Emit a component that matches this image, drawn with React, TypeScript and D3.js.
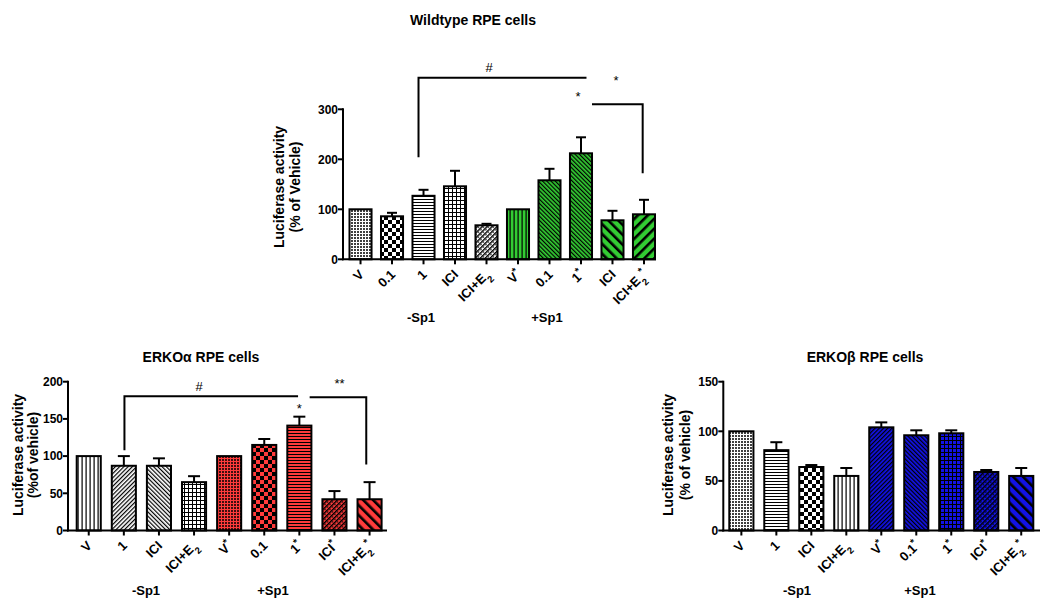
import React from "react";
import * as d3 from "d3";

// ---------- DATA ----------
const wtCategories = ["V", "0.1", "1", "ICI", "ICI+E2", "V*", "0.1", "1*", "ICI", "ICI+E2*"];
const wtMeans = [100, 86, 127, 146, 68, 100, 158, 212, 78, 90];
const wtUpper = [100, 93, 139, 177, 71, 100, 181, 244, 97, 119];
const wtTicks = [0, 100, 200, 300];

const aCategories = ["V", "1", "ICI", "ICI+E2", "V*", "0.1", "1*", "ICI*", "ICI+E2*"];
const aMeans = [100, 87, 87, 65, 100, 115, 141, 42, 42];
const aUpper = [100, 100, 97, 73, 100, 123, 153, 53, 65];
const aTicks = [0, 50, 100, 150, 200];

const bCategories = ["V", "1", "ICI", "ICI+E2", "V*", "0.1*", "1*", "ICI*", "ICI+E2*"];
const bMeans = [100, 81, 64, 55, 104, 96, 98, 59, 55];
const bUpper = [100, 89, 66, 63, 109, 101, 101, 61, 63];
const bTicks = [0, 50, 100, 150];

const groupLabels = ["-Sp1", "+Sp1"];

// ---------- STYLES ----------
const GREEN = "#33cc33";
const RED = "#ff3b3b";
const BLUE = "#1212e6";
const WHITE = "#ffffff";
const FONT = "'Liberation Sans', Arial, Helvetica, sans-serif";

type Fill = { kind: string; color: string };
const wtFills: Fill[] = [
  { kind: "dots", color: WHITE },
  { kind: "checker", color: WHITE },
  { kind: "hlines", color: WHITE },
  { kind: "grid", color: WHITE },
  { kind: "diagDots", color: WHITE },
  { kind: "vlines", color: GREEN },
  { kind: "diagFineL", color: GREEN },
  { kind: "diagFineL", color: GREEN },
  { kind: "diagWideL", color: GREEN },
  { kind: "diagWideR", color: GREEN },
];
const aFills: Fill[] = [
  { kind: "vlines", color: WHITE },
  { kind: "diagFineR", color: WHITE },
  { kind: "diagFineL", color: WHITE },
  { kind: "grid", color: WHITE },
  { kind: "dots", color: RED },
  { kind: "checker", color: RED },
  { kind: "hlines", color: RED },
  { kind: "diagDots", color: RED },
  { kind: "diagWideL", color: RED },
];
const bFills: Fill[] = [
  { kind: "dots", color: WHITE },
  { kind: "hlines", color: WHITE },
  { kind: "checker", color: WHITE },
  { kind: "vlines", color: WHITE },
  { kind: "diagFineR", color: BLUE },
  { kind: "diagFineL", color: BLUE },
  { kind: "grid", color: BLUE },
  { kind: "diagDots", color: BLUE },
  { kind: "diagWideL", color: BLUE },
];

type Bracket = { i0: number; dx0: number; i1: number; dx1: number; level: number; drop0?: number; drop1?: number };
type Note = { text: string; i: number; dx: number; v: number };

type PanelCfg = {
  title: string; titleX: number; titleY: number;
  yLabel: string[]; yLabelX: number[]; yLabelY: number;
  axisX: number; axisEnd: number; y0: number; yTopPx: number; yMax: number; ticks: number[];
  barStart: number; barEnd: number; padInner: number; cap: number;
  categories: string[]; means: number[]; upper: number[]; fills: Fill[];
  groupX: number[]; groupY: number;
  brackets: Bracket[]; notes: Note[];
};

const panels: PanelCfg[] = [
  {
    title: "Wildtype RPE cells", titleX: 473, titleY: 25,
    yLabel: ["Luciferase activity", "(% of Vehicle)"], yLabelX: [284, 300], yLabelY: 187,
    axisX: 343, axisEnd: 656, y0: 259.3, yTopPx: 109.3, yMax: 300, ticks: wtTicks,
    barStart: 349.5, barEnd: 655, padInner: 0.3, cap: 10,
    categories: wtCategories, means: wtMeans, upper: wtUpper, fills: wtFills,
    groupX: [421, 547], groupY: 321.5,
    brackets: [
      { i0: 2, dx0: -5, i1: 7, dx1: 5.5, level: 363, drop0: 204 },
      { i0: 7, dx0: 11, i1: 9, dx1: -1.3, level: 310, drop1: 172 },
    ],
    notes: [
      { text: "#", i: 4, dx: 2.5, v: 374 },
      { text: "*", i: 7, dx: -3, v: 316 },
      { text: "*", i: 8, dx: 3.5, v: 348 },
    ],
  },
  {
    title: "ERKO\u03b1 RPE cells", titleX: 201, titleY: 362,
    yLabel: ["Luciferase activity", "(%of vehicle)"], yLabelX: [23, 38], yLabelY: 455,
    axisX: 68, axisEnd: 387, y0: 530.5, yTopPx: 381.7, yMax: 200, ticks: aTicks,
    barStart: 76.7, barEnd: 381.6, padInner: 0.314, cap: 12,
    categories: aCategories, means: aMeans, upper: aUpper, fills: aFills,
    groupX: [146, 273], groupY: 595,
    brackets: [
      { i0: 1, dx0: 0.6, i1: 6, dx1: -1.3, level: 180.6, drop0: 107.8 },
      { i0: 6, dx0: 10.3, i1: 8, dx1: -3.3, level: 179.2, drop1: 88.7 },
    ],
    notes: [
      { text: "#", i: 3, dx: 5, v: 187 },
      { text: "**", i: 7, dx: 5, v: 191 },
      { text: "*", i: 6, dx: 0, v: 158 },
    ],
  },
  {
    title: "ERKO\u03b2 RPE cells", titleX: 865, titleY: 362,
    yLabel: ["Luciferase activity", "(% of vehicle)"], yLabelX: [673, 690], yLabelY: 455,
    axisX: 723.3, axisEnd: 1040, y0: 530.5, yTopPx: 381.7, yMax: 150, ticks: bTicks,
    barStart: 729.3, barEnd: 1033.3, padInner: 0.31, cap: 12,
    categories: bCategories, means: bMeans, upper: bUpper, fills: bFills,
    groupX: [797, 920], groupY: 595,
    brackets: [],
    notes: [],
  },
];

// ---------- PATTERNS ----------
function patId(f: Fill) {
  return `p-${f.kind}-${f.color.replace("#", "")}`;
}

function PatternDef({ f }: { f: Fill }) {
  const id = patId(f);
  const bg = f.color;
  const k = f.kind;
  if (k === "dots") {
    return (
      <pattern id={id} width={3} height={3} patternUnits="userSpaceOnUse">
        <rect width={3} height={3} fill={bg} />
        <rect x={0} y={0} width={2} height={2} fill="#000" />
        <rect x={0.5} y={0.5} width={1} height={1} fill={bg} />
      </pattern>
    );
  }
  if (k === "checker") {
    return (
      <pattern id={id} width={8} height={8} patternUnits="userSpaceOnUse">
        <rect width={8} height={8} fill={bg} />
        <rect x={0} y={0} width={4} height={4} fill="#000" />
        <rect x={4} y={4} width={4} height={4} fill="#000" />
      </pattern>
    );
  }
  if (k === "hlines") {
    return (
      <pattern id={id} width={3} height={3} patternUnits="userSpaceOnUse">
        <rect width={3} height={3} fill={bg} />
        <rect x={0} y={1} width={3} height={1} fill="#000" />
      </pattern>
    );
  }
  if (k === "vlines") {
    return (
      <pattern id={id} width={4} height={4} patternUnits="userSpaceOnUse">
        <rect width={4} height={4} fill={bg} />
        <rect x={1.5} y={0} width={1.2} height={4} fill="#000" />
      </pattern>
    );
  }
  if (k === "grid") {
    return (
      <pattern id={id} width={4} height={4} patternUnits="userSpaceOnUse">
        <rect width={4} height={4} fill={bg} />
        <rect x={0} y={0} width={4} height={1} fill="#000" />
        <rect x={0} y={0} width={1} height={4} fill="#000" />
      </pattern>
    );
  }
  const diag: Record<string, [number, number, number]> = {
    diagFineR: [3, 1.2, 45],
    diagFineL: [3, 1.2, -45],
    diagWideR: [7, 2.6, 45],
    diagWideL: [7, 2.6, -45],
    diagDots: [3.5, 1.4, 45],
  };
  const [s, w, a] = diag[k] || [4, 1, 45];
  return (
    <pattern id={id} width={s} height={s} patternUnits="userSpaceOnUse" patternTransform={`rotate(${a})`}>
      <rect width={s} height={s} fill={bg} />
      <rect x={0} y={0} width={w} height={s} fill="#000" />
      {k === "diagDots" && <rect x={w + 0.6} y={0} width={0.8} height={s / 2} fill="#000" />}
    </pattern>
  );
}

// ---------- LABELS ----------
function CatLabel({ label }: { label: string }) {
  let base = label;
  let star = false;
  if (base.endsWith("*")) {
    star = true;
    base = base.slice(0, -1);
  }
  let sub = "";
  if (base.endsWith("E2")) {
    base = base.slice(0, -1);
    sub = "2";
  }
  return (
    <>
      {base}
      {sub && (
        <tspan baselineShift="sub" fontSize="9.5px">
          {sub}
        </tspan>
      )}
      {star && (
        <tspan baselineShift="super" fontSize="10px">
          *
        </tspan>
      )}
    </>
  );
}

function Panel({ c }: { c: PanelCfg }) {
  const idx = c.categories.map((_, i) => i);
  const x = d3.scaleBand<number>().domain(idx).range([c.barStart, c.barEnd]).paddingInner(c.padInner).paddingOuter(0);
  const y = d3.scaleLinear().domain([0, c.yMax]).range([c.y0, c.yTopPx]);
  const bw = x.bandwidth();
  const cx = (i: number) => (x(i) as number) + bw / 2;
  const line = d3.line<[number, number]>();

  return (
    <g fill="#000">
      <text x={c.titleX} y={c.titleY} textAnchor="middle" fontSize="14px" fontWeight="bold">
        {c.title}
      </text>
      {c.yLabel.map((t, k) => (
        <text
          key={k}
          transform={`translate(${c.yLabelX[k]},${c.yLabelY}) rotate(-90)`}
          textAnchor="middle"
          fontSize="14px"
          fontWeight="bold"
        >
          {t}
        </text>
      ))}
      {/* bars */}
      {c.means.map((m, i) => (
        <rect
          key={"b" + i}
          x={x(i)}
          y={y(m)}
          width={bw}
          height={c.y0 - y(m)}
          fill={`url(#${patId(c.fills[i])})`}
          stroke="#000"
          strokeWidth={2}
        />
      ))}
      {/* error bars */}
      {c.means.map((m, i) =>
        c.upper[i] > m ? (
          <g key={"e" + i} stroke="#000" strokeWidth={2}>
            <line x1={cx(i)} x2={cx(i)} y1={y(m)} y2={y(c.upper[i])} />
            <line x1={cx(i) - c.cap / 2} x2={cx(i) + c.cap / 2} y1={y(c.upper[i])} y2={y(c.upper[i])} />
          </g>
        ) : null
      )}
      {/* y axis */}
      <line x1={c.axisX} x2={c.axisX} y1={y(c.yMax) - 1} y2={c.y0 + 1} stroke="#000" strokeWidth={2} />
      {c.ticks.map((t) => (
        <g key={"t" + t}>
          <line x1={c.axisX - 5} x2={c.axisX} y1={y(t)} y2={y(t)} stroke="#000" strokeWidth={2} />
          <text x={c.axisX - 5} y={y(t)} dy="0.36em" textAnchor="end" fontSize="12px" fontWeight="bold">
            {t}
          </text>
        </g>
      ))}
      {/* x axis */}
      <line x1={c.axisX - 1} x2={c.axisEnd} y1={c.y0} y2={c.y0} stroke="#000" strokeWidth={2} />
      {idx.map((i) => (
        <g key={"x" + i}>
          <line x1={cx(i)} x2={cx(i)} y1={c.y0} y2={c.y0 + 5} stroke="#000" strokeWidth={2} />
          <text
            transform={`translate(${cx(i) + 4},${c.y0 + 16}) rotate(-45)`}
            textAnchor="end"
            fontSize="13px"
            fontWeight="bold"
          >
            <CatLabel label={c.categories[i]} />
          </text>
        </g>
      ))}
      {groupLabels.map((g, k) => (
        <text key={"g" + k} x={c.groupX[k]} y={c.groupY} textAnchor="middle" fontSize="13px" fontWeight="bold">
          {g}
        </text>
      ))}
      {/* brackets */}
      {c.brackets.map((b, k) => {
        const xa = cx(b.i0) + b.dx0;
        const xb = cx(b.i1) + b.dx1;
        const yl = y(b.level);
        const pts: [number, number][] = [];
        if (b.drop0 !== undefined) pts.push([xa, y(b.drop0)]);
        pts.push([xa, yl], [xb, yl]);
        if (b.drop1 !== undefined) pts.push([xb, y(b.drop1)]);
        return <path key={"br" + k} d={line(pts) || ""} fill="none" stroke="#000" strokeWidth={2} />;
      })}
      {c.notes.map((n, k) => (
        <text key={"n" + k} x={cx(n.i) + n.dx} y={y(n.v)} textAnchor="middle" fontSize="13px" fill="#000">
          {n.text}
        </text>
      ))}
    </g>
  );
}

export default function App() {
  const allFills: Fill[] = [];
  const seen = new Set<string>();
  panels.forEach((p) =>
    p.fills.forEach((f) => {
      const id = patId(f);
      if (!seen.has(id)) {
        seen.add(id);
        allFills.push(f);
      }
    })
  );
  return (
    <svg
      width={1050}
      height={612}
      style={{ position: "absolute", left: 0, top: 0, background: "#fff" }}
      fontFamily={FONT}
    >
      <defs>
        {allFills.map((f) => (
          <PatternDef key={patId(f)} f={f} />
        ))}
      </defs>
      <rect width={1050} height={612} fill="#fff" />
      {panels.map((p, i) => (
        <Panel key={i} c={p} />
      ))}
    </svg>
  );
}
